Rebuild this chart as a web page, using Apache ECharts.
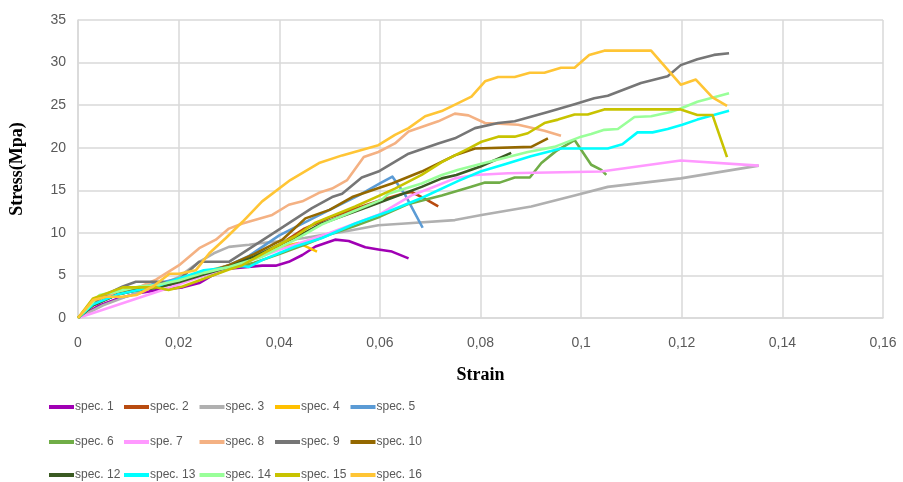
<!DOCTYPE html>
<html>
<head>
<meta charset="utf-8">
<script src="https://cdn.jsdelivr.net/npm/echarts@6/dist/echarts.min.js"></script>
<style>
  html, body { margin: 0; padding: 0; background: #fff; }
  #chart { width: 903px; height: 482px; }
</style>
</head>
<body>
<div id="chart"></div>
<script>
// Stress–strain curves, [strain, stress (MPa)] pairs per specimen
const spec1 = [[0,0],[0.004,1.4],[0.008,2.3],[0.012,2.9],[0.016,3.3],[0.0208,3.6],[0.0241,4.1],[0.0267,5.0],[0.030,5.8],[0.0366,6.15],[0.0393,6.15],[0.0419,6.6],[0.0446,7.4],[0.0472,8.4],[0.0511,9.2],[0.0538,9.05],[0.0571,8.3],[0.0597,8.05],[0.0624,7.8],[0.0657,7.0]];
const spec2 = [[0,0],[0.003,1.8],[0.008,3.0],[0.012,3.5],[0.016,3.8],[0.02,4.5],[0.025,5.3],[0.03,6.0],[0.035,7.0],[0.04,8.6],[0.045,10.5],[0.05,11.8],[0.055,12.8],[0.06,13.8],[0.0645,14.6],[0.0663,14.8],[0.069,14.0],[0.0716,13.1]];
const spec3 = [[0,0],[0.005,1.5],[0.01,2.6],[0.015,3.6],[0.02,4.8],[0.0241,6.6],[0.027,7.6],[0.030,8.35],[0.034,8.6],[0.0366,8.8],[0.04,9.0],[0.045,9.4],[0.05,9.9],[0.0525,10.1],[0.0597,10.9],[0.065,11.1],[0.0749,11.5],[0.0802,12.1],[0.0901,13.1],[0.0987,14.4],[0.1053,15.4],[0.1198,16.4],[0.1353,17.9]];
const spec4 = [[0,0],[0.003,2.0],[0.008,3.2],[0.012,3.6],[0.016,4.0],[0.02,4.6],[0.025,5.4],[0.03,6.2],[0.035,7.2],[0.04,8.3],[0.0439,8.8],[0.0475,7.8]];
const spec5 = [[0,0],[0.003,1.8],[0.007,3.0],[0.012,3.6],[0.016,4.1],[0.02,4.6],[0.025,5.3],[0.03,6.2],[0.034,7.3],[0.04,9.7],[0.045,11.2],[0.05,12.7],[0.0558,14.4],[0.06,15.8],[0.0625,16.6],[0.065,14.5],[0.0685,10.6]];
const spec6 = [[0,0],[0.003,1.6],[0.008,2.8],[0.012,3.3],[0.016,3.6],[0.02,4.2],[0.025,5.0],[0.03,5.8],[0.035,6.5],[0.04,7.5],[0.045,8.6],[0.05,9.8],[0.055,10.8],[0.06,11.9],[0.0657,13.4],[0.0723,14.4],[0.078,15.4],[0.0809,15.9],[0.0838,15.9],[0.0868,16.5],[0.0898,16.5],[0.0921,18.2],[0.095,19.6],[0.0987,20.9],[0.102,18.0],[0.104,17.4],[0.105,16.8]];
const spe7  = [[0,0],[0.0168,3.3],[0.025,5.0],[0.03,5.9],[0.035,6.9],[0.04,8.0],[0.05,10.0],[0.06,12.2],[0.0663,14.4],[0.0703,15.3],[0.0749,16.4],[0.0789,16.8],[0.0855,17.0],[0.104,17.2],[0.1198,18.5],[0.1353,17.9]];
const spec8 = [[0,0],[0.003,1.8],[0.008,3.0],[0.012,3.6],[0.0155,4.5],[0.0201,6.2],[0.0241,8.2],[0.0274,9.2],[0.030,10.5],[0.0327,11.1],[0.0386,12.1],[0.0419,13.3],[0.0446,13.7],[0.0479,14.7],[0.0505,15.2],[0.0535,16.2],[0.0568,18.9],[0.0597,19.5],[0.063,20.5],[0.0657,21.9],[0.0716,23.1],[0.0749,24.0],[0.0776,23.8],[0.0809,22.9],[0.0875,22.7],[0.0927,22.0],[0.096,21.4]];
const spec9 = [[0,0],[0.003,1.8],[0.006,2.9],[0.0089,3.7],[0.0115,4.25],[0.0168,4.25],[0.0182,3.9],[0.0201,4.5],[0.0241,6.6],[0.030,6.6],[0.035,8.5],[0.040,10.4],[0.0465,12.9],[0.0505,14.2],[0.0525,14.6],[0.0564,16.5],[0.0597,17.2],[0.0657,19.3],[0.0716,20.5],[0.0749,21.1],[0.0789,22.3],[0.0835,22.9],[0.0868,23.1],[0.0934,24.2],[0.0987,25.1],[0.1026,25.8],[0.1053,26.1],[0.1119,27.6],[0.1172,28.4],[0.1198,29.7],[0.1231,30.4],[0.1264,30.9],[0.1294,31.1]];
const spec10 = [[0,0],[0.003,1.5],[0.008,2.8],[0.012,3.5],[0.016,3.8],[0.02,4.3],[0.025,5.2],[0.03,6.2],[0.035,7.5],[0.0406,9.2],[0.0452,11.7],[0.05,12.7],[0.0545,14.2],[0.0624,15.8],[0.0683,17.2],[0.0749,19.1],[0.0789,19.9],[0.0901,20.1],[0.0934,21.1]];
const spec12 = [[0,0],[0.003,1.5],[0.008,2.8],[0.012,3.3],[0.016,3.6],[0.02,4.2],[0.025,5.1],[0.03,6.0],[0.035,7.2],[0.04,8.6],[0.045,10.0],[0.0485,11.1],[0.0578,13.1],[0.0683,15.4],[0.0723,16.4],[0.0752,16.8],[0.08,17.8],[0.0861,19.4]];
const spec13 = [[0,0],[0.003,1.6],[0.008,2.8],[0.012,3.3],[0.016,3.8],[0.02,4.6],[0.025,5.6],[0.0327,6.1],[0.034,6.0],[0.0366,6.8],[0.0432,8.4],[0.0485,9.4],[0.0551,11.1],[0.0617,12.5],[0.0683,14.1],[0.0756,16.1],[0.08,17.2],[0.085,18.1],[0.09,19.0],[0.096,19.9],[0.1053,19.9],[0.1082,20.4],[0.1112,21.8],[0.1142,21.8],[0.1172,22.2],[0.1201,22.7],[0.1231,23.3],[0.1294,24.35]];
const spec14 = [[0,0],[0.0043,2.7],[0.0076,3.1],[0.0122,3.7],[0.016,3.9],[0.02,4.4],[0.025,5.3],[0.030,6.0],[0.0366,7.2],[0.0432,9.2],[0.0485,11.0],[0.055,12.6],[0.0604,13.9],[0.0617,14.6],[0.0683,15.8],[0.0723,16.8],[0.0756,17.4],[0.08,18.1],[0.0855,18.9],[0.0894,19.5],[0.0947,20.1],[0.1,21.3],[0.102,21.6],[0.1046,22.1],[0.1073,22.2],[0.1106,23.6],[0.1139,23.7],[0.1178,24.2],[0.1198,24.6],[0.1231,25.4],[0.1294,26.4]];
const spec15 = [[0,0],[0.003,2.3],[0.0089,3.6],[0.0109,3.6],[0.0155,3.6],[0.018,3.3],[0.0208,3.7],[0.025,4.6],[0.03,5.7],[0.0327,6.2],[0.0393,8.4],[0.0432,9.6],[0.0472,11.2],[0.0551,13.1],[0.063,15.2],[0.0683,16.8],[0.0723,18.3],[0.0749,19.1],[0.0776,19.9],[0.0802,20.7],[0.0835,21.3],[0.0868,21.3],[0.0894,21.7],[0.0927,22.9],[0.0954,23.3],[0.0987,23.9],[0.1013,23.9],[0.1046,24.5],[0.1198,24.5],[0.1231,23.85],[0.1261,23.85],[0.129,18.9]];
const spec16 = [[0,0],[0.003,2.1],[0.0056,2.5],[0.0089,2.5],[0.0116,2.7],[0.0149,3.7],[0.0182,5.2],[0.0201,5.2],[0.0234,5.6],[0.0261,7.6],[0.0294,9.4],[0.0327,11.3],[0.0366,13.7],[0.0422,16.2],[0.0479,18.2],[0.0525,19.1],[0.0597,20.3],[0.063,21.5],[0.0657,22.3],[0.069,23.7],[0.0723,24.3],[0.0782,26.0],[0.0809,27.8],[0.0835,28.3],[0.0868,28.3],[0.0898,28.8],[0.0927,28.8],[0.096,29.4],[0.0987,29.4],[0.1016,30.9],[0.1046,31.4],[0.1139,31.4],[0.1198,27.4],[0.1228,28.0],[0.1261,25.9],[0.129,24.9]];

const seriesNames = ['spec. 1','spec. 2','spec. 3','spec. 4','spec. 5','spec. 6','spe. 7','spec. 8','spec. 9','spec. 10','spec. 12','spec. 13','spec. 14','spec. 15','spec. 16'];
const seriesData  = [spec1, spec2, spec3, spec4, spec5, spec6, spe7, spec8, spec9, spec10, spec12, spec13, spec14, spec15, spec16];
const seriesColors = ['#A000B4','#B84B10','#B0B0B0','#FFC000','#5B9BD5','#70AD47','#FF99FF','#F4B183','#767676','#946800','#3A5A22','#00FFFF','#99FF99','#C8C300','#FFC535'];

const xTicks = { min: 0, max: 0.16, interval: 0.02 };
const yTicks = { min: 0, max: 35, interval: 5 };

const uiFont = '"Liberation Sans", Arial, sans-serif';
const tickFont = { fontFamily: uiFont, fontSize: 14, color: '#595959' };

// legend: 5 columns x 3 rows, one component per entry for fixed column positions
const legendCols = [44, 119, 194.5, 270, 345.5];
const legendRows = [396, 431, 464];
const legends = seriesNames.map((name, i) => ({
  data: [name],
  left: legendCols[i % 5],
  top: legendRows[Math.floor(i / 5)],
  icon: 'rect',
  itemWidth: 25,
  itemHeight: 4,
  itemGap: 0,
  selectedMode: false,
  textStyle: { fontFamily: uiFont, fontSize: 12, color: '#595959', padding: [0, 0, 0, -4] }
}));

const chart = echarts.init(document.getElementById('chart'), null, { renderer: 'canvas' });
chart.setOption({
  animation: false,
  backgroundColor: '#ffffff',
  grid: { left: 75, right: 20, top: 20, bottom: 164 },
  legend: legends,
  xAxis: {
    type: 'value',
    min: xTicks.min, max: xTicks.max, interval: xTicks.interval,
    name: 'Strain',
    nameLocation: 'middle',
    nameGap: 48,
    nameTextStyle: { fontFamily: 'Liberation Serif, serif', fontWeight: 'bold', fontSize: 18, color: '#000' },
    axisLine: { show: true, lineStyle: { color: '#D9D9D9', width: 1.5 } },
    axisTick: { show: false },
    splitLine: { show: true, lineStyle: { color: '#D9D9D9', width: 1.5 } },
    axisLabel: Object.assign({ margin: 18, formatter: v => String(Math.round(v * 100) / 100).replace('.', ',') }, tickFont)
  },
  yAxis: {
    type: 'value',
    min: yTicks.min, max: yTicks.max, interval: yTicks.interval,
    name: 'Stress(Mpa)',
    nameLocation: 'middle',
    nameGap: 52,
    nameTextStyle: { fontFamily: 'Liberation Serif, serif', fontWeight: 'bold', fontSize: 18, color: '#000' },
    axisLine: { show: true, lineStyle: { color: '#D9D9D9', width: 1.5 } },
    axisTick: { show: false },
    splitLine: { show: true, lineStyle: { color: '#D9D9D9', width: 1.5 } },
    axisLabel: Object.assign({ margin: 12 }, tickFont)
  },
  series: seriesNames.map((name, i) => ({
    name: name,
    type: 'line',
    data: seriesData[i],
    showSymbol: false,
    symbol: 'none',
    color: seriesColors[i],
    lineStyle: { width: 2.6, color: seriesColors[i], join: 'round' },
    z: 2 + i
  }))
});
</script>
</body>
</html>
